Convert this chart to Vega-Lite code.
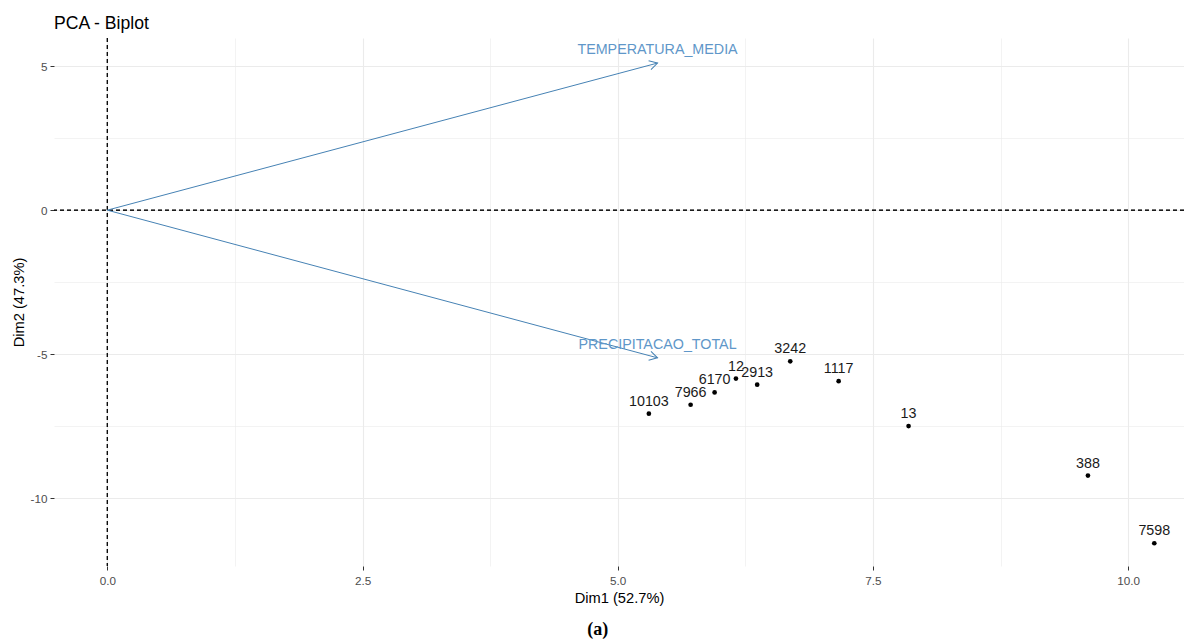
{
  "$schema": "https://vega.github.io/schema/vega-lite/v6.json",
  "background": "white",
  "padding": {"left": 11, "top": 15, "right": 0, "bottom": 2},
  "title": {"text": "(a)", "orient": "bottom", "anchor": "middle", "font": "Liberation Serif", "fontWeight": "bold", "fontSize": 18, "color": "black", "offset": 16},
  "config": {
    "view": {"stroke": null},
    "axis": {"gridColor": "#ebebeb", "domain": false, "tickColor": "#333333", "tickSize": 4, "labelColor": "#4d4d4d", "labelFont": "Liberation Sans", "labelFontSize": 11.7, "titleFont": "Liberation Sans", "titleFontSize": 14.67, "titleFontWeight": "normal", "titleColor": "black", "labelOverlap": false, "labelFlush": false}
  },
  "datasets": {
    "ind": [
      {"id": "10103", "x": 5.305, "y": -7.07},
      {"id": "7966", "x": 5.714, "y": -6.76},
      {"id": "6170", "x": 5.949, "y": -6.33},
      {"id": "12", "x": 6.158, "y": -5.85},
      {"id": "2913", "x": 6.366, "y": -6.06},
      {"id": "3242", "x": 6.69, "y": -5.25},
      {"id": "1117", "x": 7.164, "y": -5.94},
      {"id": "13", "x": 7.849, "y": -7.5},
      {"id": "388", "x": 9.606, "y": -9.22},
      {"id": "7598", "x": 10.256, "y": -11.57}
    ],
    "var": [
      {"name": "TEMPERATURA_MEDIA", "x0": 0, "y0": 0, "x": 5.39, "y": 5.11},
      {"name": "PRECIPITACAO_TOTAL", "x0": 0, "y0": 0, "x": 5.39, "y": -5.13}
    ]
  },
  "vconcat": [
    {
      "title": {"text": "PCA - Biplot", "anchor": "start", "frame": "group", "font": "Liberation Sans", "fontSize": 17.6, "fontWeight": "normal", "color": "black", "baseline": "alphabetic", "offset": -9.5},
      "width": 1130,
      "height": 528,
      "layer": [
        {
          "data": {"name": "ind"},
          "mark": {"type": "point", "filled": true, "color": "black", "size": 22, "opacity": 1},
          "encoding": {
            "x": {"field": "x", "type": "quantitative",
              "scale": {"domain": [-0.522, 10.547], "nice": false, "zero": false},
              "axis": {"title": "Dim1 (52.7%)", "values": [0, 1.25, 2.5, 3.75, 5, 6.25, 7.5, 8.75, 10],
                "labelExpr": "datum.value % 2.5 == 0 ? format(datum.value, '.1f') : ''",
                "tickOpacity": {"condition": {"test": "datum.value % 2.5 != 0", "value": 0}, "value": 1},
                "gridWidth": {"condition": {"test": "datum.value % 2.5 != 0", "value": 0.6}, "value": 1.1},
                "labelPadding": 5, "titlePadding": 4}},
            "y": {"field": "y", "type": "quantitative",
              "scale": {"domain": [-12.36, 5.98], "nice": false, "zero": false},
              "axis": {"title": "Dim2 (47.3%)", "values": [-10, -7.5, -5, -2.5, 0, 2.5, 5],
                "labelExpr": "datum.value % 5 == 0 ? '' + datum.value : ''",
                "tickOpacity": {"condition": {"test": "datum.value % 5 != 0", "value": 0}, "value": 1},
                "gridWidth": {"condition": {"test": "datum.value % 5 != 0", "value": 0.6}, "value": 1.1},
                "labelPadding": 3, "titlePadding": 4}}
          }
        },
        {
          "data": {"name": "ind"},
          "mark": {"type": "text", "align": "center", "baseline": "alphabetic", "dy": -8, "font": "Liberation Sans", "fontSize": 14.3, "color": "#1a1a1a"},
          "encoding": {
            "x": {"field": "x", "type": "quantitative"},
            "y": {"field": "y", "type": "quantitative"},
            "text": {"field": "id"}
          }
        },
        {
          "data": {"name": "var"},
          "mark": {"type": "rule", "color": "black", "strokeWidth": 1, "strokeDash": [4, 3]},
          "encoding": {"y": {"field": "y0", "type": "quantitative"}}
        },
        {
          "data": {"name": "var"},
          "mark": {"type": "rule", "color": "black", "strokeWidth": 1, "strokeDash": [4, 3]},
          "encoding": {"x": {"field": "x0", "type": "quantitative"}}
        },
        {
          "data": {"name": "var"},
          "mark": {"type": "rule", "color": "#4682B4", "strokeWidth": 1},
          "encoding": {
            "x": {"field": "x0", "type": "quantitative"},
            "y": {"field": "y0", "type": "quantitative"},
            "x2": {"field": "x"},
            "y2": {"field": "y"}
          }
        },
        {
          "data": {"name": "var"},
          "mark": {"type": "point", "shape": "M-0.87,-0.5L0,0L-0.87,0.5", "filled": false, "color": "#4682B4", "strokeWidth": 1, "size": 340, "opacity": 1},
          "encoding": {
            "x": {"field": "x", "type": "quantitative"},
            "y": {"field": "y", "type": "quantitative"},
            "angle": {"condition": {"test": "datum.name == 'TEMPERATURA_MEDIA'", "value": -14.9}, "value": 14.9}
          }
        },
        {
          "data": {"name": "var"},
          "mark": {"type": "text", "align": "center", "baseline": "alphabetic", "dy": -9, "font": "Liberation Sans", "fontSize": 14.3, "color": "#5f97c9"},
          "encoding": {
            "x": {"field": "x", "type": "quantitative"},
            "y": {"field": "y", "type": "quantitative"},
            "text": {"field": "name"}
          }
        }
      ]
    }
  ]
}
